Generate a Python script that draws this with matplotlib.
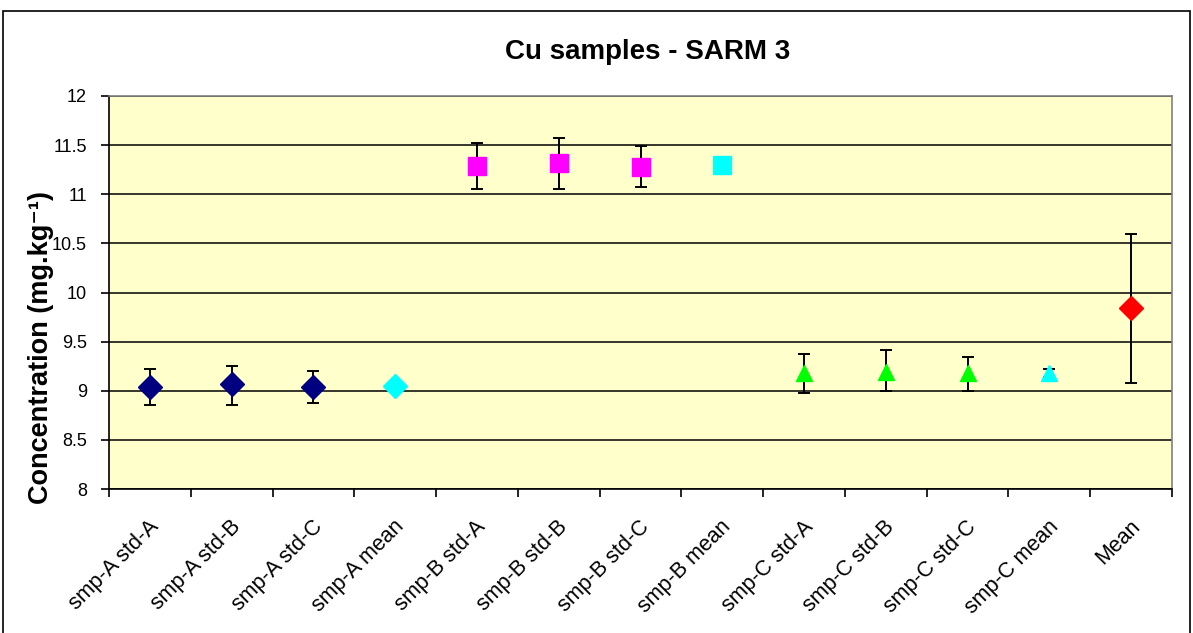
import matplotlib
matplotlib.use("Agg")
import matplotlib.pyplot as plt
from matplotlib.patches import Rectangle
import numpy as np

categories = ["smp-A std-A", "smp-A std-B", "smp-A std-C", "smp-A mean",
              "smp-B std-A", "smp-B std-B", "smp-B std-C", "smp-B mean",
              "smp-C std-A", "smp-C std-B", "smp-C std-C", "smp-C mean", "Mean"]
values = [9.04, 9.07, 9.04, 9.05,
          11.29, 11.32, 11.28, 11.30,
          9.18, 9.195, 9.18, 9.18, 9.845]
err_upper = [9.22, 9.255, 9.20, None,
             11.52, 11.575, 11.49, None,
             9.375, 9.41, 9.34, 9.22, 10.595]
err_lower = [8.855, 8.855, 8.875, None,
             11.05, 11.05, 11.07, None,
             8.98, 8.995, 8.995, 9.14, 9.08]
markers = ["D", "D", "D", "D", "s", "s", "s", "s", "^", "^", "^", "^", "D"]
colors = ["#000080", "#000080", "#000080", "#00FFFF",
          "#FF00FF", "#FF00FF", "#FF00FF", "#00FFFF",
          "#00FF00", "#00FF00", "#00FF00", "#00FFFF", "#FF0000"]
yticks = [8, 8.5, 9, 9.5, 10, 10.5, 11, 11.5, 12]

marker_size = {"D": 12, "s": 13.5, "^": 12}

plt.rcParams['font.family'] = ['Liberation Sans', 'DejaVu Sans']

fig = plt.figure(figsize=(11.93, 6.33), dpi=100)
fig.patches.append(Rectangle((3/1193, -0.01), 1187/1193, (633-11)/633 + 0.01,
                             transform=fig.transFigure, fill=False,
                             edgecolor="black", linewidth=1.2))
ax = fig.add_axes([109/1193, 1-489/633, (1172-109)/1193, (489-96)/633])
ax.set_facecolor("#FFFFCC")

x = np.arange(len(categories))
for i in range(len(categories)):
    if err_upper[i] is not None:
        ax.errorbar(x[i], values[i],
                    yerr=[[values[i]-err_lower[i]], [err_upper[i]-values[i]]],
                    fmt="none", ecolor="black", elinewidth=1.4, capsize=4,
                    capthick=1.4, zorder=3)
    ax.plot(x[i], values[i], marker=markers[i], color=colors[i],
            markersize=marker_size[markers[i]],
            markeredgecolor=colors[i], linestyle="none", zorder=4)

ax.set_xlim(-0.5, len(categories)-0.5)
ax.set_ylim(8, 12)
ax.set_yticks(yticks)
ax.set_yticklabels([f"{v:g}" for v in yticks], fontsize=13)
ax.yaxis.grid(True, color="black", linewidth=1.1)
ax.set_axisbelow(True)
ax.set_xticks(np.arange(-0.5, len(categories), 1.0))
ax.set_xticklabels([])
ax.set_xticks(x + 0.07, minor=True)
ax.set_xticklabels(categories, minor=True, rotation=45, ha="right", va="center",
                   rotation_mode="anchor", fontsize=15.5)
ax.tick_params(axis="x", which="minor", length=0, pad=25)
ax.tick_params(axis="x", which="major", length=6, width=1.2, direction="out")
ax.tick_params(axis="y", length=6, width=1.2, direction="out", pad=10)

for s in ["top", "right"]:
    ax.spines[s].set_color("#808080")
    ax.spines[s].set_linewidth(1.2)
for s in ["left", "bottom"]:
    ax.spines[s].set_color("black")
    ax.spines[s].set_linewidth(1.2)

ax.set_ylabel("Concentration (mg.kg\u207b\u00b9)", fontsize=19.5,
              fontweight="bold")
ax.yaxis.set_label_coords((54-109)/1063, (489-348)/393)
fig.text(648/1193, 1-52/633, "Cu samples - SARM 3", ha="center",
         va="center", fontsize=20, fontweight="bold")

fig.savefig("out.png", dpi=100)
